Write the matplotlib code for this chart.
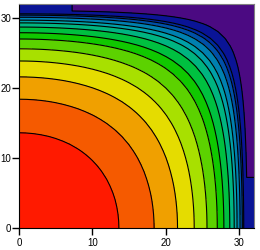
import numpy as np
import matplotlib
matplotlib.use('Agg')
import matplotlib.pyplot as plt

# grid 0..32, zero at the far edge, symmetric at x=0 and y=0
n_points = 33
half_width = 32.0

# contour levels (fraction of the centre value)
levels = [0.046, 0.0686, 0.078, 0.093, 0.113, 0.132, 0.161, 0.200, 0.243,
          0.309, 0.389, 0.489, 0.619, 0.785]
band_colors = ['#4b0a82', '#0a1496', '#0028a0', '#0050a8', '#0080b0',
               '#00a0a8', '#00b480', '#00c040', '#10c800', '#5cd200',
               '#a8e000', '#e5dc00', '#f0a000', '#f55a00', '#ff1a00']
ticks = [0, 10, 20, 30]

x = np.arange(n_points)
y = np.arange(n_points)
# slowest decaying heat mode of the square
fx = np.cos(np.pi * x / (2 * half_width))
fy = np.cos(np.pi * y / (2 * half_width))
u = np.outer(fy, fx)
# the last row/column is plotted as a copy of its neighbour
u[-1, :] = u[-2, :]
u[:, -1] = u[:, -2]

plt.rcParams['font.family'] = ['Liberation Sans', 'DejaVu Sans']

fig = plt.figure(figsize=(2.6, 2.5), dpi=100)
ax = fig.add_axes([19 / 260, 22 / 250, 235 / 260, 224 / 250])

all_levels = [-1.0] + levels + [2.0]
ax.contourf(x, y, u, levels=all_levels, colors=band_colors)
ax.contour(x, y, u, levels=levels, colors='black', linewidths=0.8)

ax.set_xlim(0, 32)
ax.set_ylim(0, 32)
ax.set_xticks(ticks)
ax.set_yticks(ticks)
ax.tick_params(direction='out', length=5, width=1, labelsize=7,
               top=False, right=False)
ax.tick_params(axis='y', pad=0.5)
ax.tick_params(axis='x', pad=2)
for s in ('top', 'right'):
    ax.spines[s].set_color('#808080')
for s in ('left', 'bottom'):
    ax.spines[s].set_color('black')

fig.savefig('out.png', dpi=100)
